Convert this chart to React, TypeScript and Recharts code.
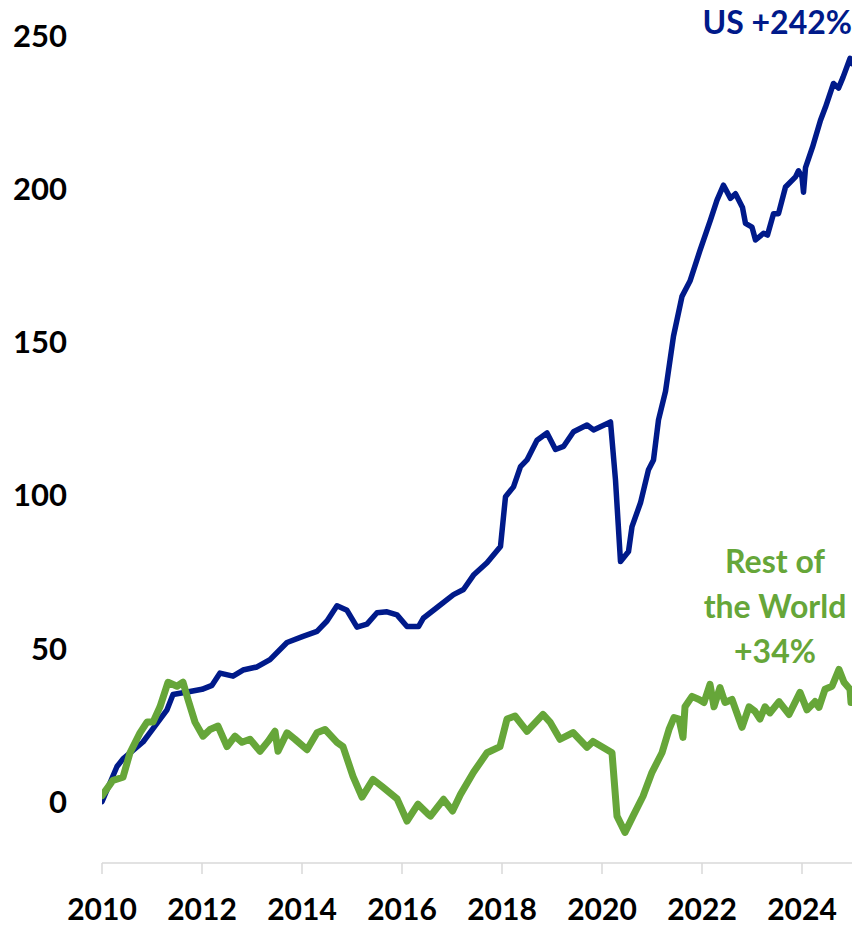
import React from 'react';
import { LineChart, Line, XAxis, YAxis } from 'recharts';

// US index, % change since 2010
const usYears = [
  2010.0, 2010.3, 2010.42, 2010.82, 2011.3, 2011.42, 2011.76, 2012.0, 2012.2, 2012.36,
  2012.62, 2012.82, 2013.1, 2013.36, 2013.7, 2014.02, 2014.3, 2014.5, 2014.7, 2014.9,
  2015.1, 2015.3, 2015.5, 2015.7, 2015.9, 2016.1, 2016.33, 2016.43, 2016.7, 2017.03,
  2017.23, 2017.43, 2017.7, 2017.97, 2018.07, 2018.23, 2018.37, 2018.5, 2018.7, 2018.9,
  2019.07, 2019.23, 2019.43, 2019.7, 2019.83, 2020.17, 2020.27, 2020.37, 2020.53, 2020.6,
  2020.77, 2020.93, 2021.03, 2021.13, 2021.27, 2021.43, 2021.6, 2021.76, 2021.96, 2022.17,
  2022.3, 2022.43, 2022.57, 2022.67, 2022.81, 2022.87, 2023.0, 2023.07, 2023.23, 2023.31,
  2023.43, 2023.53, 2023.67, 2023.87, 2023.93, 2024.0, 2024.03, 2024.07, 2024.21, 2024.37,
  2024.47, 2024.63, 2024.73, 2024.82, 2024.96, 2025.0,
];
const usValues = [
  0, 11.5, 14, 19.5, 30, 35, 36, 36.7, 38, 42,
  41, 43, 44, 46.4, 52, 54, 55.6, 59, 64, 62.5,
  57, 58, 61.7, 62, 61, 57.2, 57.2, 60, 63.4, 67.6,
  69.3, 74, 78, 83.3, 99.6, 102.8, 109.4, 111.6, 118, 120.4,
  115, 116, 120.8, 123, 121.4, 124, 105, 78.4, 81.7, 89.8,
  97.6, 108.4, 111.6, 124.7, 134, 152, 165, 170, 180, 190,
  196.4, 201.3, 197, 198.5, 194, 188.8, 187.6, 183.4, 185.6, 185,
  192, 192, 200.7, 204, 206, 204, 199, 207, 213.7, 222.5,
  226.8, 234.5, 233, 236.5, 242.7, 241,
];

// Rest of the World index, % change since 2010
const rowYears = [
  2010.0, 2010.22, 2010.42, 2010.56, 2010.76, 2010.9, 2011.02, 2011.16, 2011.32, 2011.5,
  2011.62, 2011.72, 2011.86, 2012.02, 2012.16, 2012.32, 2012.5, 2012.66, 2012.8, 2012.96,
  2013.16, 2013.32, 2013.46, 2013.52, 2013.7, 2013.86, 2014.1, 2014.3, 2014.46, 2014.7,
  2014.82, 2015.02, 2015.2, 2015.42, 2015.62, 2015.9, 2016.1, 2016.32, 2016.52, 2016.57,
  2016.83, 2017.01, 2017.17, 2017.43, 2017.7, 2017.96, 2018.1, 2018.26, 2018.5, 2018.82,
  2018.96, 2019.16, 2019.42, 2019.7, 2019.82, 2020.1, 2020.2, 2020.3, 2020.46, 2020.62,
  2020.82, 2021.0, 2021.2, 2021.34, 2021.44, 2021.54, 2021.62, 2021.66, 2021.8, 2021.94,
  2022.04, 2022.16, 2022.24, 2022.36, 2022.46, 2022.6, 2022.74, 2022.8, 2022.94, 2023.06,
  2023.16, 2023.26, 2023.36, 2023.54, 2023.74, 2023.96, 2024.1, 2024.26, 2024.34, 2024.46,
  2024.6, 2024.74, 2024.84, 2024.96, 2024.98, 2025.0,
];
const rowValues = [
  2, 7, 8, 16, 22.5, 26, 26, 31, 39, 37.7,
  39, 33.4, 26, 21.4, 23.6, 24.7, 18, 21.4, 19.4, 20.4,
  16.5, 19.7, 23, 16.5, 22.5, 20.4, 17, 22.5, 23.6, 19.4,
  18, 8.3, 1.5, 7.3, 4.7, 1, -6.3, -0.8, -4, -4.7,
  0.8, -3, 2.4, 9.6, 16, 18, 27, 28, 23, 28.5,
  26, 20.4, 22.6, 17.8, 19.7, 17, 16, -4.7, -10, -4.7,
  1.8, 9.6, 16, 23.6, 27.5, 27, 21, 31, 34.4, 33.4,
  32.4, 38.3, 31, 37.3, 32.4, 33.4, 27, 24.3, 31, 29.5,
  27, 31, 29, 32.7, 28.5, 35.7, 30, 32.7, 30.8, 36.7,
  37.7, 43.2, 39, 36.7, 32.4, 35,
];

const xTicks = [2010, 2012, 2014, 2016, 2018, 2020, 2022, 2024];
const yTicks = [0, 50, 100, 150, 200, 250];

const usData = usYears.map((t, i) => ({ t, v: usValues[i] }));
const rowData = rowYears.map((t, i) => ({ t, v: rowValues[i] }));

const NAVY = '#001a8a';
const GREEN = '#66a639';
const FONT = 'Lato, "Open Sans", sans-serif';

const xTickStyle = { fill: '#000', fontSize: 30, fontWeight: 700, fontFamily: FONT };
const yTickStyle = { fill: '#000', fontSize: 31, fontWeight: 700, fontFamily: FONT };

export default function App() {
  return (
    <div style={{ position: 'absolute', left: 0, top: 0, width: 856, height: 927, background: '#fff' }}>
      <LineChart width={856} height={927} margin={{ top: 36, right: 4, left: 0, bottom: 0 }}>
        <XAxis
          dataKey="t"
          type="number"
          domain={[2010, 2025]}
          ticks={xTicks}
          allowDataOverflow
          height={64}
          axisLine={{ stroke: '#d9d9d9', strokeWidth: 1.5 }}
          tickLine={{ stroke: '#d9d9d9', strokeWidth: 1.5 }}
          tickSize={11}
          tickMargin={25}
          tick={xTickStyle}
        />
        <YAxis
          type="number"
          domain={[-20, 250]}
          ticks={yTicks}
          width={102}
          axisLine={false}
          tickLine={false}
          tickSize={6}
          tickMargin={29}
          tick={yTickStyle}
        />
        <Line
          data={usData}
          dataKey="v"
          type="linear"
          stroke={NAVY}
          strokeWidth={5.5}
          strokeLinejoin="round"
          strokeLinecap="round"
          dot={false}
          isAnimationActive={false}
        />
        <Line
          data={rowData}
          dataKey="v"
          type="linear"
          stroke={GREEN}
          strokeWidth={7}
          strokeLinejoin="round"
          strokeLinecap="round"
          dot={false}
          isAnimationActive={false}
        />
      </LineChart>
      <div
        style={{
          position: 'absolute', right: 4, top: 2, color: NAVY, fontFamily: FONT,
          fontWeight: 700, fontSize: 32, lineHeight: '40px', whiteSpace: 'nowrap',
        }}
      >
        US +242%
      </div>
      <div
        style={{
          position: 'absolute', left: 695, width: 160, top: 538, color: GREEN, fontFamily: FONT,
          fontWeight: 700, fontSize: 32, lineHeight: '45px', textAlign: 'center',
        }}
      >
        Rest of<br />the World<br />+34%
      </div>
    </div>
  );
}
